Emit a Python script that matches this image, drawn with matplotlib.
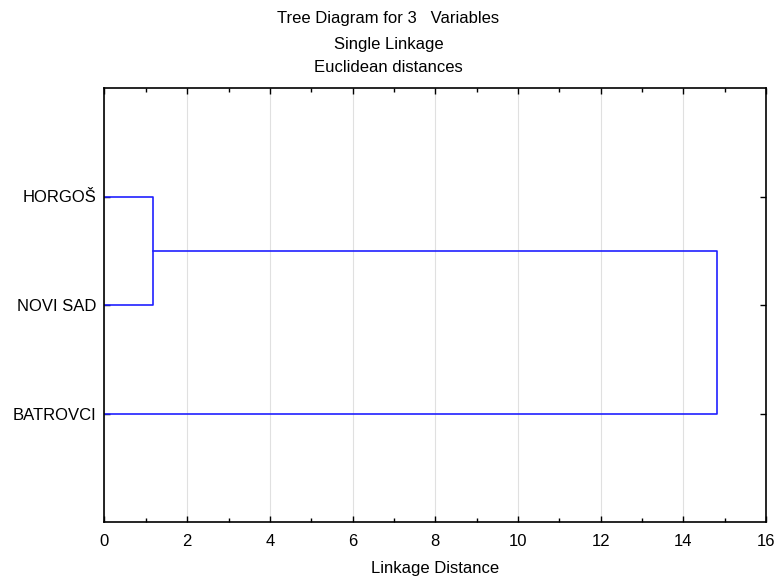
import matplotlib
matplotlib.use('Agg')
import matplotlib.pyplot as plt
from matplotlib.ticker import MultipleLocator

plt.rcParams['font.family'] = ['Liberation Sans', 'DejaVu Sans']

# leaf labels, bottom to top
labels = ['BATROVCI', 'NOVI SAD', 'HORGOŠ']
# linkage distances of the two merges
merge_dist = [1.17, 14.82]

fig = plt.figure(figsize=(7.77, 5.78), dpi=100)
ax = fig.add_axes([104.5 / 777, 56 / 578, (766 - 104.5) / 777, (522 - 88) / 578])

col = '#2020ff'
lw = 1.2
# first merge: HORGOS + NOVI SAD
y_h, y_n, y_b = 3, 2, 1
ax.plot([0, merge_dist[0], merge_dist[0], 0], [y_h, y_h, y_n, y_n], color=col, lw=lw)
y_mid = (y_h + y_n) / 2
# second merge: cluster + BATROVCI
ax.plot([merge_dist[0], merge_dist[1], merge_dist[1], 0], [y_mid, y_mid, y_b, y_b],
        color=col, lw=lw)

ax.set_xlim(0, 16)
ax.set_ylim(0, 4)
ax.xaxis.set_major_locator(MultipleLocator(2))
ax.xaxis.set_minor_locator(MultipleLocator(1))
ax.set_yticks([1, 2, 3])
ax.set_yticklabels(labels)
ax.grid(axis='x', which='major', color='#e0e0e0', lw=0.8)
ax.set_axisbelow(True)
ax.tick_params(which='both', direction='in', top=True, right=True, labelsize=12, length=4,
               width=1, colors='black')
ax.tick_params(which='minor', length=3)
ax.tick_params(axis='x', pad=9)
ax.tick_params(axis='y', pad=6)
for s in ax.spines.values():
    s.set_linewidth(1.2)

fig.text(0.5 * (104.5 + 766) / 777, 1 - 569 / 578, 'Linkage Distance', ha='center', va='center',
         fontsize=12)
fig.text(0.5, 1 - 18 / 578, 'Tree Diagram for 3   Variables', ha='center', va='center', fontsize=12)
fig.text(0.5, 1 - 44 / 578, 'Single Linkage', ha='center', va='center', fontsize=12)
fig.text(0.5, 1 - 68 / 578, 'Euclidean distances', ha='center', va='center', fontsize=12)

fig.savefig('out.png', dpi=100)
